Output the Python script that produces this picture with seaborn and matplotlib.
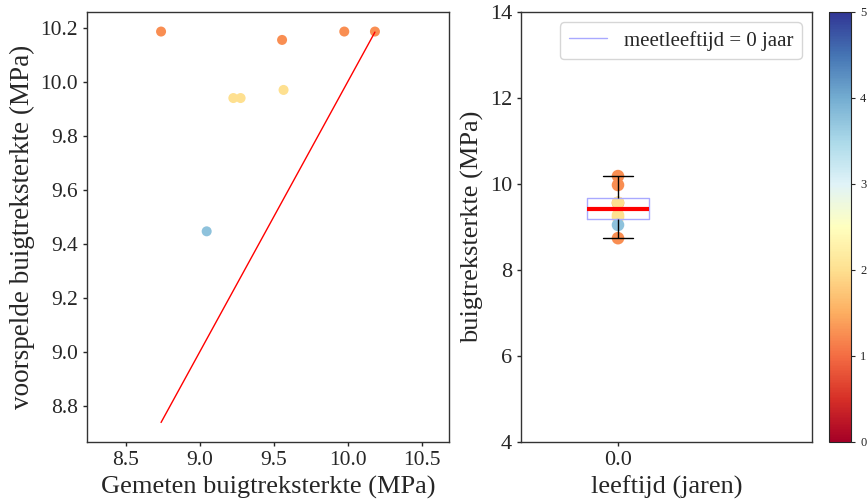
import numpy as np
import pandas as pd
import matplotlib
matplotlib.use("Agg")
import matplotlib.pyplot as plt
import seaborn as sns
from matplotlib.lines import Line2D
from matplotlib.colors import Normalize
from matplotlib.cm import ScalarMappable

# ---- data ----
gemeten = [8.74, 9.557, 9.977, 10.184, 9.228, 9.277, 9.567, 9.048]
voorspeld = [10.186, 10.155, 10.186, 10.186, 9.94, 9.94, 9.97, 9.447]
kleurwaarde = [1.25, 1.25, 1.25, 1.25, 2.0, 2.0, 2.0, 3.75]
leeftijd_cat = ["0.0"] * 8
legend_label = "meetleeftijd = 0 jaar"
cbar_ticks = [0, 1, 2, 3, 4, 5]

sns.set_theme(style="ticks")
plt.rcParams["font.family"] = ["Liberation Serif", "DejaVu Serif"]
plt.rcParams["mathtext.fontset"] = "stix"

df = pd.DataFrame({"gemeten": gemeten, "voorspeld": voorspeld,
                   "kleur": kleurwaarde, "leeftijd": leeftijd_cat})

cmap = plt.get_cmap("RdYlBu")
norm = Normalize(vmin=0, vmax=5)
point_colors = [cmap(norm(v)) for v in kleurwaarde]

fig = plt.figure(figsize=(8.67, 5.0), dpi=100)
ax1 = fig.add_axes([87 / 867, 58 / 500, 362 / 867, 430 / 500])
ax2 = fig.add_axes([521 / 867, 58 / 500, 291 / 867, 430 / 500])
cax = fig.add_axes([829 / 867, 58 / 500, 22 / 867, 430 / 500])

# ---- left panel ----
sns.scatterplot(x=df["gemeten"], y=df["voorspeld"], c=point_colors,
                s=52, edgecolor="none", ax=ax1, legend=False)
lo, hi = min(gemeten), max(gemeten)
sns.lineplot(x=[lo, hi], y=[lo, hi], color="red", linewidth=1, ax=ax1)
ax1.set_xlim(lo - 0.5, hi + 0.5)
ax1.set_xticks([8.5, 9.0, 9.5, 10.0, 10.5])
ax1.set_yticks([8.8, 9.0, 9.2, 9.4, 9.6, 9.8, 10.0, 10.2])
ax1.set_xlabel("Gemeten buigtreksterkte (MPa)", fontsize=19)
ax1.set_ylabel("voorspelde buigtreksterkte (MPa)", fontsize=19.5)
ax1.tick_params(labelsize=15.5, length=3, width=1)

# ---- right panel ----
ax2.scatter([0] * len(gemeten), gemeten, c=point_colors, s=82,
            edgecolors="none", zorder=1)
sns.boxplot(x=df["leeftijd"], y=df["gemeten"], ax=ax2, width=0.63,
            fill=False, showfliers=False, linewidth=1,
            boxprops=dict(color="#a9a9ff", linewidth=1, zorder=3),
            whiskerprops=dict(color="black", linewidth=1, zorder=3),
            capprops=dict(color="black", linewidth=1, zorder=3),
            medianprops=dict(color="red", linewidth=3, zorder=4))
ax2.set_xlim(-1, 2)
ax2.set_ylim(4, 14)
ax2.set_yticks([4, 6, 8, 10, 12, 14])
ax2.set_xlabel("leeftijd (jaren)", fontsize=19)
ax2.set_ylabel("buigtreksterkte (MPa)", fontsize=19)
ax2.tick_params(labelsize=16, length=3, width=1)
handle = Line2D([0], [0], color="#a9a9ff", linewidth=1)
ax2.legend([handle], [legend_label], loc="upper right", fontsize=15,
           handlelength=1.85, fancybox=True, framealpha=0.8)

for ax in (ax1, ax2):
    for sp in ax.spines.values():
        sp.set_color("#333333")
        sp.set_linewidth(1)

# ---- colorbar ----
sm = ScalarMappable(norm=norm, cmap=cmap)
cb = fig.colorbar(sm, cax=cax, ticks=cbar_ticks)
cb.ax.tick_params(labelsize=9, length=3, width=0.8)
cb.outline.set_linewidth(0.8)

fig.savefig("out.png", dpi=100)
